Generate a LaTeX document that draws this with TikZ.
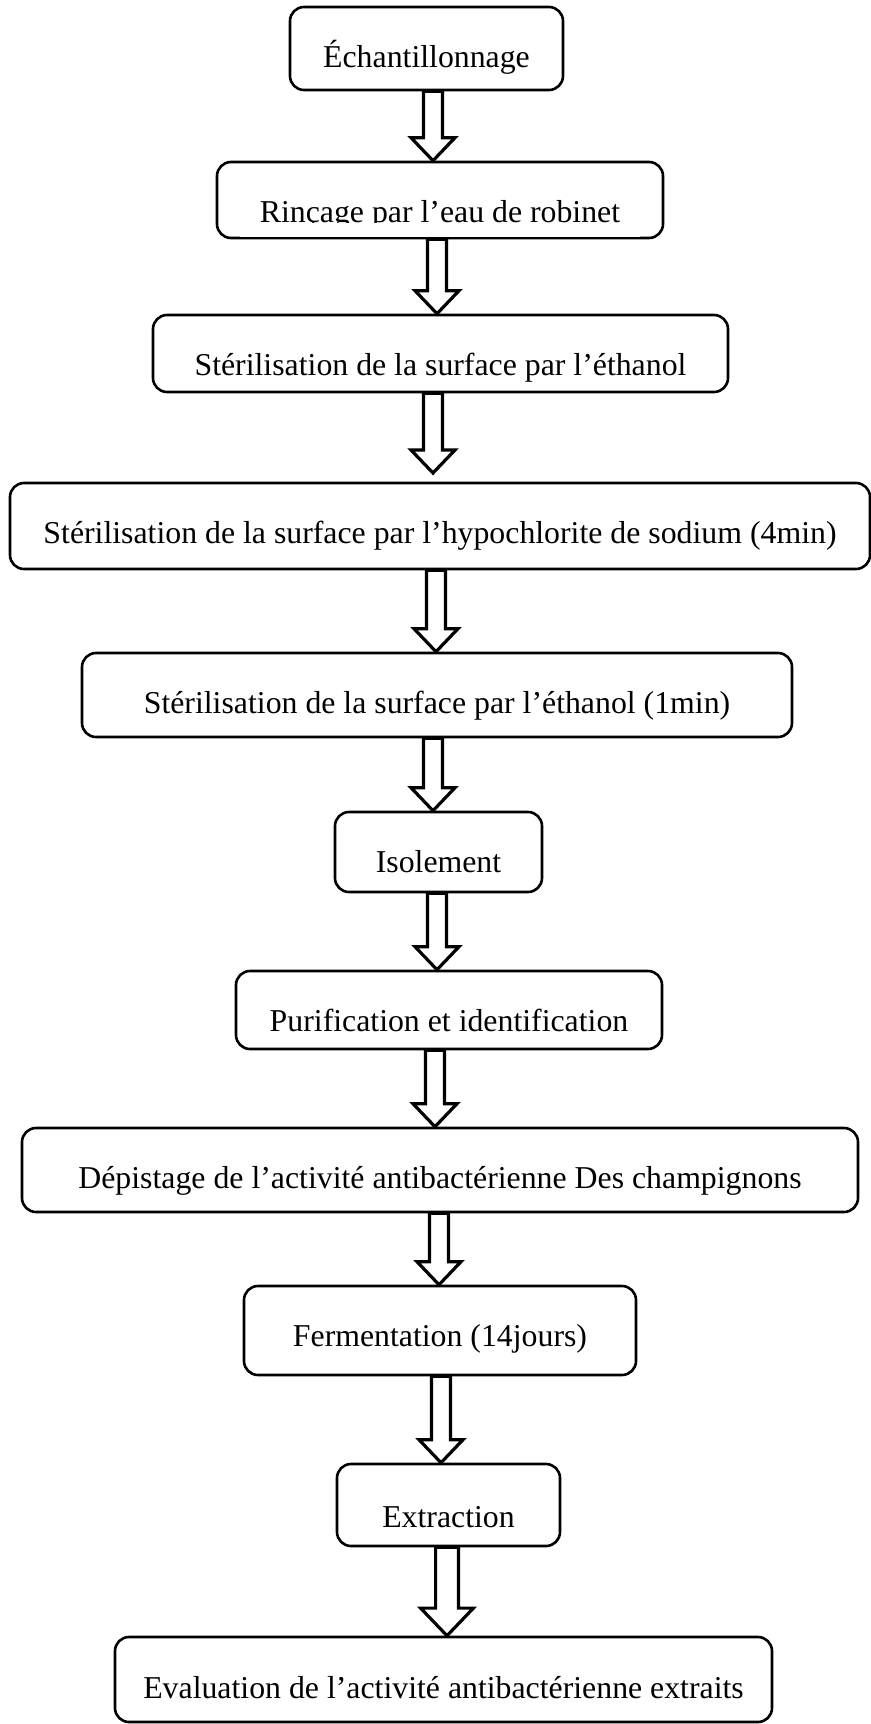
\documentclass[tikz,border=0pt]{standalone}
\usepackage{fontspec}
\setmainfont{Liberation Serif}
\usepackage{tikz}
\usetikzlibrary{calc}

% fleche creuse : [taille]{depart}{arrivee}{abscisse}
\newcommand{\flecheCreuse}[4][1]{%
  \draw[fleche] let \p1=(#2), \p2=(#3), \p3=(#4,0) in
    (\x3-4.75pt*#1,\y1) -- (\x3-4.75pt*#1,\y2+11.5pt*#1)
    -- (\x3-11pt*#1,\y2+11.5pt*#1) -- (\x3,\y2)
    -- (\x3+11pt*#1,\y2+11.5pt*#1) -- (\x3+4.75pt*#1,\y2+11.5pt*#1)
    -- (\x3+4.75pt*#1,\y1) -- cycle;}

\begin{document}
\begin{tikzpicture}[
    x=0.5pt, y=-0.5pt,
    etape/.style={draw, rounded corners=7pt, line width=1.3pt, inner sep=0pt,
                  text depth=0pt, font=\fontsize{15.9}{19}\selectfont},
    fleche/.style={line width=1.6pt, line join=miter}
  ]
    \useasboundingbox (0,0) rectangle (871,1724);

    \node[etape, minimum width=136.5pt, minimum height=41.5pt, text height=18.5pt]
      (ech) at (426.5,48.5) {Échantillonnage};
    \node[etape, minimum width=223pt, minimum height=38pt, text height=22pt]
      (rin) at (440,200) {Rinçage par l’eau de robinet};
    \node[etape, minimum width=287.5pt, minimum height=38.5pt, text height=21.5pt]
      (ste1) at (440.5,353.5) {Stérilisation de la surface par l’éthanol};
    \node[etape, minimum width=430pt, minimum height=43pt, text height=17pt]
      (hyp) at (440,526) {Stérilisation de la surface par l’hypochlorite de sodium (4min)};
    \node[etape, minimum width=355pt, minimum height=42pt, text height=18pt]
      (ste2) at (437,695) {Stérilisation de la surface par l’éthanol (1min)};
    \node[etape, minimum width=103.5pt, minimum height=40pt, text height=20pt]
      (iso) at (438.5,852) {Isolement};
    \node[etape, minimum width=213pt, minimum height=39pt, text height=21pt]
      (pur) at (449,1010) {Purification et identification};
    \node[etape, minimum width=418pt, minimum height=42pt, text height=18pt]
      (dep) at (440,1170) {Dépistage de l’activité antibactérienne Des champignons};
    \node[etape, minimum width=196pt, minimum height=44.5pt, text height=15.5pt]
      (fer) at (440,1330.5) {Fermentation (14jours)};
    \node[etape, minimum width=111.5pt, minimum height=41pt, text height=22pt]
      (ext) at (448.5,1505) {Extraction};
    \node[etape, minimum width=328.5pt, minimum height=42.5pt, text height=18.5pt]
      (eva) at (443.5,1679.5) {Evaluation de l’activité antibactérienne extraits};

    % texte coupe en bas de la deuxieme boite
    \fill[white] (240,223) rectangle (640,236.5);

    \coordinate (hypHaut) at (433,473);

    \flecheCreuse{ech.south}{rin.north}{433}
    \flecheCreuse{rin.south}{ste1.north}{437}
    \flecheCreuse{ste1.south}{hypHaut}{433}
    \flecheCreuse{hyp.south}{ste2.north}{436}
    \flecheCreuse{ste2.south}{iso.north}{433}
    \flecheCreuse{iso.south}{pur.north}{437}
    \flecheCreuse{pur.south}{dep.north}{435}
    \flecheCreuse{dep.south}{fer.north}{439}
    \flecheCreuse{fer.south}{ext.north}{441}
    \flecheCreuse[1.2]{ext.south}{eva.north}{447}
\end{tikzpicture}
\end{document}
